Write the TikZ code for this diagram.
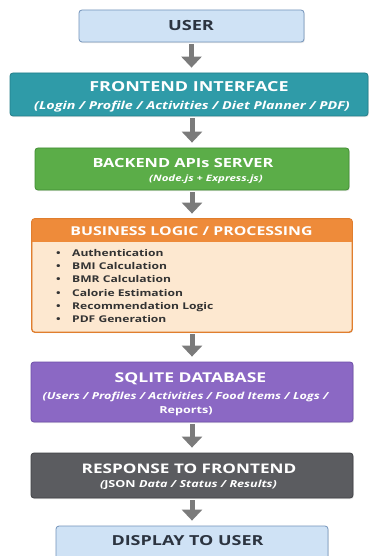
\documentclass[tikz,border=0pt]{standalone}
\usepackage{fontspec}
\setmainfont{Open Sans}[FakeStretch=1.3]
\usetikzlibrary{arrows.meta,shadows}

\definecolor{userfill}{HTML}{CFE2F5}
\definecolor{userline}{HTML}{7393BA}
\definecolor{darktext}{HTML}{2C3440}
\definecolor{tealfill}{HTML}{2F9BA8}
\definecolor{tealline}{HTML}{237E89}
\definecolor{greenfill}{HTML}{5BAD48}
\definecolor{greenline}{HTML}{418D33}
\definecolor{orangehead}{HTML}{EE8B3A}
\definecolor{orangeline}{HTML}{E07E2E}
\definecolor{peachfill}{HTML}{FDE8D0}
\definecolor{purplefill}{HTML}{8B68C4}
\definecolor{purpleline}{HTML}{6E4FA8}
\definecolor{grayfill}{HTML}{5B5C60}
\definecolor{grayline}{HTML}{414246}
\definecolor{arrowgray}{HTML}{7B7B7B}
\definecolor{bullettext}{HTML}{333333}

% heading and subtitle type: size given in pt
\newcommand\hdrfont[1]{\fontsize{#1}{15}\selectfont\bfseries}
\newcommand\subfont[1]{\fontsize{#1}{12}\selectfont\bfseries\itshape}

\begin{document}
\begin{tikzpicture}[x=1pt,y=-1pt,
  box/.style={rectangle, rounded corners=3pt, line width=0.8pt, inner sep=0pt,
    drop shadow={opacity=0.18, shadow xshift=0.8pt, shadow yshift=-1.2pt}},
  hdr/.style={inner sep=0pt, anchor=base, font=\hdrfont{13}},
  subt/.style={inner sep=0pt, anchor=base, font=\subfont{9.7}, text=white},
  item/.style={inner sep=0pt, anchor=base west, text=bullettext,
    font=\fontsize{9.3}{12}\selectfont\bfseries},
  arr/.style={draw=arrowgray, line width=5pt,
    -{Triangle[width=20pt,length=11pt]}, shorten <=2pt, shorten >=5pt}]

\useasboundingbox (0,0) rectangle (370,556);
\clip (0,0) rectangle (370,556);
\fill[white] (0,0) rectangle (370,556);

% user
\node[box, fill=userfill, draw=userline, minimum width=225pt, minimum height=32pt]
  (user) at (191.5,26) {};
\node[hdr, text=darktext, font=\hdrfont{14}] (usertxt) at (191,31) {USER};

% frontend
\node[box, fill=tealfill, draw=tealline, minimum width=358pt, minimum height=43pt]
  (front) at (189,94.5) {};
\node[hdr, text=white, font=\hdrfont{13.8}] (fronthdr) at (189,91.5) {FRONTEND INTERFACE};
\node[subt, font=\subfont{11}] (frontsub) at (192,109.5)
  {(Login / Profile / Activities / Diet Planner / PDF)};

% backend
\node[box, fill=greenfill, draw=greenline, minimum width=314pt, minimum height=42pt]
  (back) at (192,169) {};
\node[hdr, text=white, font=\hdrfont{12.6}] (backhdr) at (183,167.5) {BACKEND APIs SERVER};
\node[subt, font=\subfont{8.8}] (backsub) at (206,181.5) {(Node.js + Express.js)};

% business logic
\node[box, fill=peachfill, draw=orangeline, minimum width=320pt, minimum height=113pt]
  (biz) at (192,275.5) {};
\node[rectangle, rounded corners=3pt, fill=orangehead, inner sep=0pt,
  minimum width=320pt, minimum height=23pt, anchor=north] (bizhead) at (biz.north) {};
\fill[orangehead] (bizhead.west) rectangle (bizhead.south east);
\draw[orangeline, line width=0.8pt, rounded corners=3pt] (biz.north west) rectangle (biz.south east);
\node[hdr, text=white, font=\hdrfont{12.2}] (bizhdr) at (191.5,235.5)
  {BUSINESS LOGIC / PROCESSING};
\foreach \txt [count=\i] in {Authentication, BMI Calculation, BMR Calculation,
    Calorie Estimation, Recommendation Logic, PDF Generation} {
  \node[item] (item\i) at (56,{256.4+13.2*(\i-1)}) {\makebox[16pt][l]{•}\txt};
}

% database
\node[box, fill=purplefill, draw=purpleline, minimum width=322pt, minimum height=60pt]
  (db) at (192,392) {};
\node[hdr, text=white, font=\hdrfont{13.5}] (dbhdr) at (190.5,382.6) {SQLITE DATABASE};
\node[subt] (dbsub) at (185.5,399.5) {(Users / Profiles / Activities / Food Items / Logs /};
\node[subt, font=\fontsize{9.7}{12}\selectfont\bfseries] (dbsub2) at (186,413.5) {Reports)};

% response
\node[box, fill=grayfill, draw=grayline, minimum width=322pt, minimum height=45pt]
  (resp) at (192,475.5) {};
\node[hdr, text=white, font=\hdrfont{13.2}] (resphdr) at (189,473.6) {RESPONSE TO FRONTEND};
\node[subt] (respsub) at (188.5,487.5) {(\upshape JSON \itshape Data / Status / Results)};

% display
\node[box, fill=userfill, draw=userline, minimum width=272pt, minimum height=40pt]
  (disp) at (192,546) {};
\node[hdr, text=darktext, font=\hdrfont{13.8}] (disptxt) at (187.5,545.8) {DISPLAY TO USER};

% connectors
\draw[arr] (user.south) -- (user.south |- front.north);
\draw[arr] (front.south -| back.north) -- (back.north);
\draw[arr] (back.south) -- (biz.north);
\draw[arr] (biz.south) -- (db.north);
\draw[arr] (db.south) -- (resp.north);
\draw[arr] (resp.south) -- (disp.north);
\end{tikzpicture}
\end{document}
